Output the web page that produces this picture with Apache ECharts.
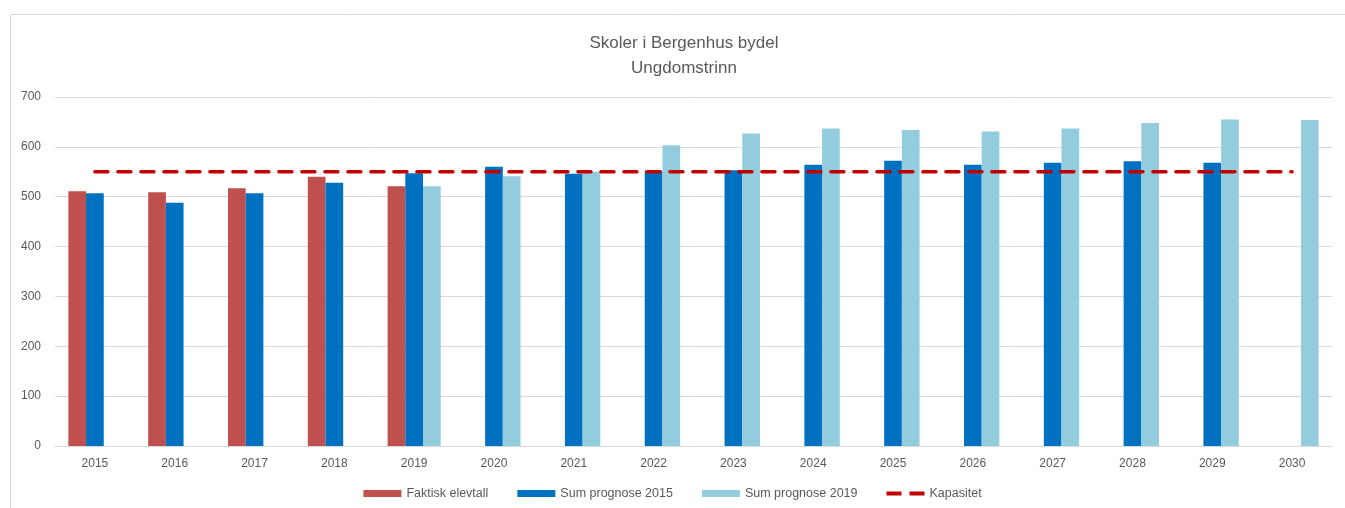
<!DOCTYPE html>
<html>
<head>
<meta charset="utf-8">
<script src="https://cdn.jsdelivr.net/npm/echarts@6/dist/echarts.min.js"></script>
<style>html,body{margin:0;padding:0;background:#fff}#c{width:1345px;height:508px}</style>
</head>
<body>
<div id="c"></div>
<script>
const years = ['2015','2016','2017','2018','2019','2020','2021','2022','2023','2024','2025','2026','2027','2028','2029','2030'];
const faktisk = [511, 509, 517, 540, 521, null, null, null, null, null, null, null, null, null, null, null];
const prognose2015 = [507, 488, 507, 528, 547, 560, 546, 552, 553, 564, 572, 564, 568, 571, 568, null];
const prognose2019 = [null, null, null, null, 521, 541, 550, 603, 627, 637, 634, 631, 637, 648, 655, 654];
const kapasitet = [550, 550, 550, 550, 550, 550, 550, 550, 550, 550, 550, 550, 550, 550, 550, 550];
const yTicks = [0, 100, 200, 300, 400, 500, 600, 700];

const font = 'Liberation Sans';
const txt = '#595959';
const chart = echarts.init(document.getElementById('c'));
chart.setOption({
  animation: false,
  textStyle: { fontFamily: font },
  graphic: [{ type: 'rect', shape: { x: 10.5, y: 14.5, width: 1400, height: 600 }, style: { fill: 'none', stroke: '#D9D9D9', lineWidth: 1 }, silent: true }],
  title: {
    text: 'Skoler i Bergenhus bydel\nUngdomstrinn',
    left: 679, top: 26, textAlign: 'center',
    textStyle: { fontFamily: font, fontSize: 17, fontWeight: 'normal', color: txt, lineHeight: 25 }
  },
  legend: {
    bottom: 3, left: 'center',
    itemWidth: 38, itemHeight: 7, itemGap: 29,
    textStyle: { fontFamily: font, fontSize: 12.5, color: txt },
    data: [
      { name: 'Faktisk elevtall', icon: 'rect' },
      { name: 'Sum prognose 2015', icon: 'rect' },
      { name: 'Sum prognose 2019', icon: 'rect' },
      { name: 'Kapasitet', icon: 'path://M0,0H15V4H0Z M23,0H38V4H23Z', itemStyle: { color: '#C00000' } }
    ]
  },
  grid: { left: 55, right: 13, top: 97, bottom: 62 },
  xAxis: {
    type: 'category', data: years,
    axisLine: { lineStyle: { color: '#D9D9D9' } },
    axisTick: { show: false },
    axisLabel: { color: txt, fontSize: 12, fontFamily: font, margin: 12 }
  },
  yAxis: {
    type: 'value', min: yTicks[0], max: yTicks[yTicks.length - 1], interval: 100,
    axisLine: { show: false }, axisTick: { show: false },
    splitLine: { lineStyle: { color: '#D9D9D9' } },
    axisLabel: { color: txt, fontSize: 12, fontFamily: font, margin: 14 }
  },
  series: [
    { name: 'Faktisk elevtall', type: 'bar', data: faktisk, barGap: '0%', barCategoryGap: '33.5%', itemStyle: { color: '#C0504D' } },
    { name: 'Sum prognose 2015', type: 'bar', data: prognose2015, itemStyle: { color: '#0070C0' } },
    { name: 'Sum prognose 2019', type: 'bar', data: prognose2019, itemStyle: { color: '#93CDDD' } },
    { name: 'Kapasitet', type: 'line', data: kapasitet, symbol: 'none', z: 5,
      lineStyle: { color: '#C00000', width: 3.5, type: [13, 10], cap: 'round' }, itemStyle: { color: '#C00000' } }
  ]
});
</script>
</body>
</html>
